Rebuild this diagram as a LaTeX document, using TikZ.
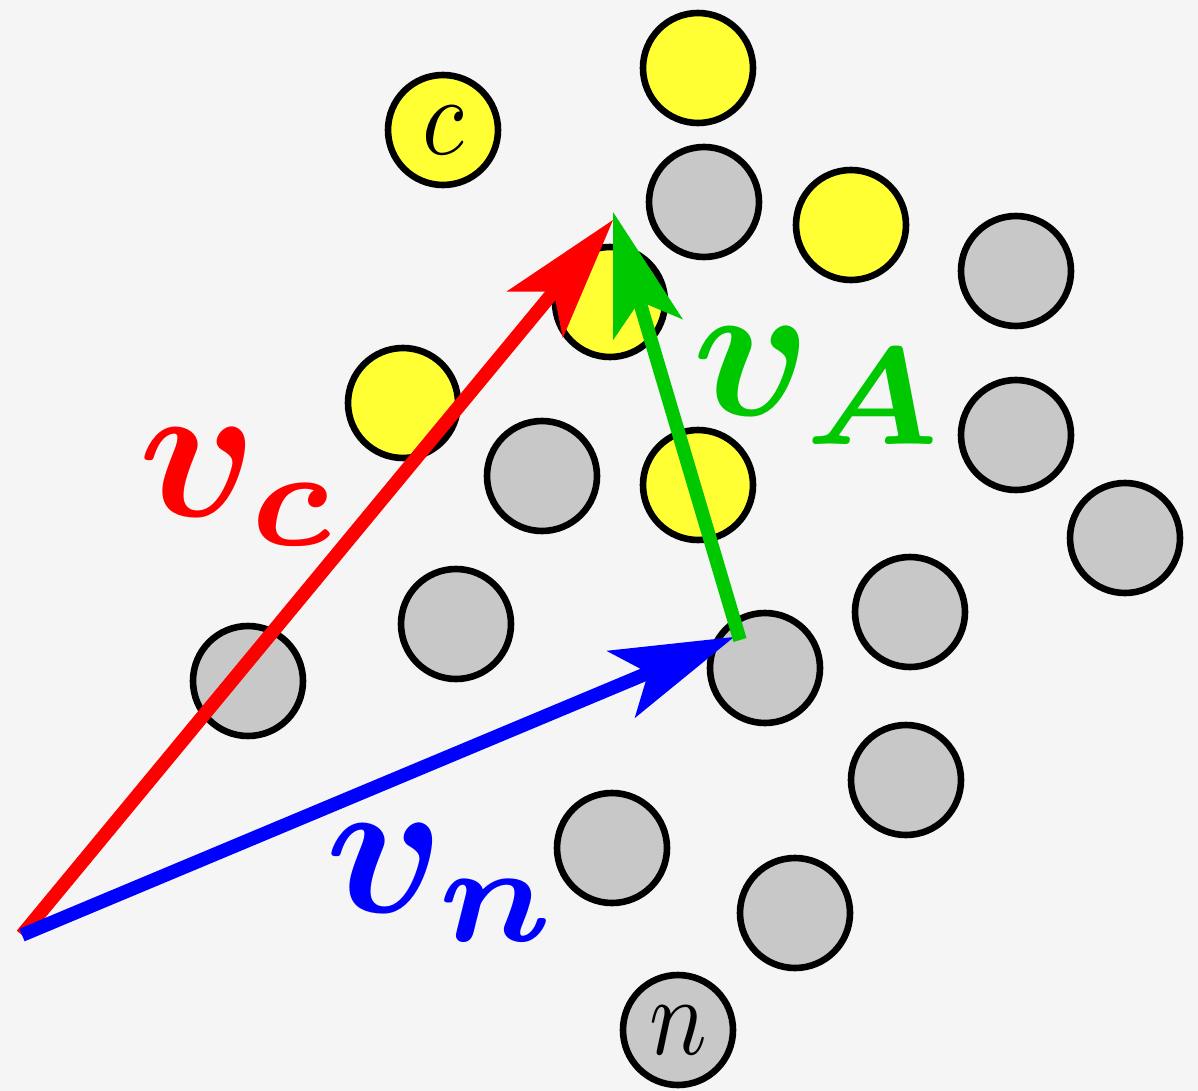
\documentclass[tikz,border=0pt]{standalone}
\usepackage{graphicx}
\usepackage{bm}
\usetikzlibrary{arrows.meta}
\definecolor{bgcol}{RGB}{245,245,245}
\definecolor{cyel}{RGB}{255,255,51}
\definecolor{cgray}{RGB}{200,200,200}
\definecolor{cgreen}{RGB}{0,200,0}
\tikzset{
  ball/.style={circle, draw=black, line width=3.3pt, minimum size=55pt, inner sep=0pt},
  yball/.style={ball, fill=cyel},
  gball/.style={ball, fill=cgray},
  vecarrow/.style={line width=6.8pt, line cap=butt,
    -{Stealth[length=61.5pt,width=36.5pt,inset=15pt,line width=0pt]}},
  biglab/.style={inner sep=0pt},
  smalllab/.style={inner sep=0pt}
}
\newcommand{\biglabel}[1]{\scalebox{9.9}{$\bm{#1}$}}
\newcommand{\smalllabel}[1]{\scalebox{4.8}[5.6]{$#1$}}
\begin{document}
\begin{tikzpicture}[x=0.5pt,y=-0.5pt]
\useasboundingbox (0,0) rectangle (1198,1091);
\fill[bgcol] (0,0) rectangle (1198,1091);
% yellow balls
\node[yball] (yc) at (443,130) {};
\node[yball] (y1) at (698,68) {};
\node[yball] (y2) at (851,225) {};
\node[yball] (y3) at (610,302) {};
\node[yball] (y4) at (403,403) {};
\node[yball] (y5) at (698,485) {};
% gray balls
\node[gball] (g1) at (704,202) {};
\node[gball] (g2) at (1016,271) {};
\node[gball] (g3) at (1016,435) {};
\node[gball] (g4) at (1125,538) {};
\node[gball] (g5) at (542,476) {};
\node[gball] (g6) at (456,624) {};
\node[gball] (g7) at (910,612) {};
\node[gball] (g8) at (248,681) {};
\node[gball] (g9) at (765,668) {};
\node[gball] (g10) at (906,780) {};
\node[gball] (g11) at (612,848) {};
\node[gball] (g12) at (795,913) {};
\node[gball] (gn) at (678,1030) {};
\node[smalllab] (lc) at (yc) {\smalllabel{c}};
\node[smalllab] (ln) at (gn) {\smalllabel{n}};
% vectors
\coordinate (o) at (22,935);
\coordinate (tc) at (613,220);
\coordinate (tn) at (734,637);
\coordinate (sa) at (740,640);
\coordinate (ta) at (613,212);
\draw[vecarrow, red] (o) -- (tc);
\draw[vecarrow, blue] (o) -- (tn);
\draw[vecarrow, cgreen] (sa) -- (ta);
% labels
\node[biglab, text=red] (lvc) at (240,487) {\biglabel{v_c}};
\node[biglab, text=cgreen] (lva) at (821,386) {\biglabel{v_A}};
\node[biglab, text=blue] (lvn) at (444,883) {\biglabel{v_n}};
\end{tikzpicture}
\end{document}
